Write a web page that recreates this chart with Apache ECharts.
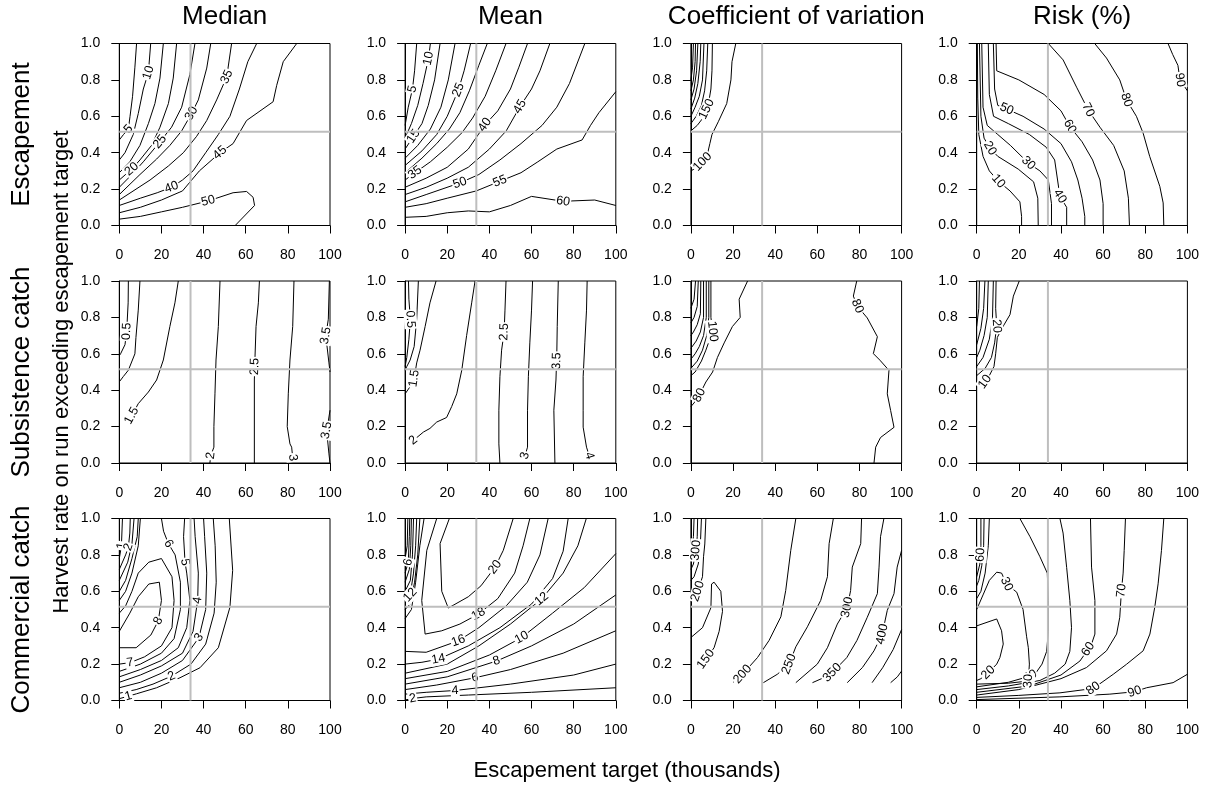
<!DOCTYPE html>
<html><head><meta charset="utf-8">
<script src="https://cdn.jsdelivr.net/npm/echarts@6/dist/echarts.min.js"></script>
<style>html,body{margin:0;padding:0;background:#fff}#c{width:1214px;height:788px}</style>
</head><body><div id="c"></div>
<script>
const colTitles = ['Median', 'Mean', 'Coefficient of variation', 'Risk (%)'];
const rowTitles = ['Escapement', 'Subsistence catch', 'Commercial catch'];
const xTitle = 'Escapement target (thousands)';
const yTitle = 'Harvest rate on run exceeding escapement target';
const xTicks = [0, 20, 40, 60, 80, 100];
const yTicks = [0, 0.2, 0.4, 0.6, 0.8, 1.0];
const refX = 33.8;
const refY = 0.515;

// ---- Row 1: Escapement ----
const escMedianLines = [
  ['5', [[0,0.47],[2,0.5],[4.3,0.53],[5.1,0.6],[6.3,0.71],[7.4,0.87],[8.2,1]]],
  ['10', [[0,0.36],[2.7,0.40],[6.6,0.5],[9,0.615],[11.4,0.75],[13.8,0.84],[14.9,1]]],
  ['15', [[0,0.29],[5,0.35],[9.8,0.44],[13.8,0.56],[16.9,0.67],[19.3,0.81],[20.9,1]]],
  ['20', [[0,0.25],[5.9,0.31],[9.8,0.36],[15.3,0.44],[19.3,0.54],[23.3,0.67],[25.6,0.81],[27.2,1]]],
  ['25', [[0,0.21],[5.1,0.27],[11.4,0.35],[19.3,0.46],[24.8,0.54],[29.6,0.65],[33.5,0.83],[35.9,1]]],
  ['30', [[0,0.17],[9.8,0.28],[17.7,0.365],[24,0.44],[29.6,0.52],[34.3,0.615],[37.5,0.69],[41.5,0.865],[43.4,1]]],
  ['35', [[0,0.14],[14.6,0.25],[23.3,0.327],[30.4,0.40],[36.7,0.49],[41.5,0.577],[46.2,0.69],[51,0.817],[53.3,1]]],
  ['40', [[0,0.11],[10,0.15],[18,0.18],[24.8,0.21],[30,0.25],[35,0.3],[41,0.4],[47,0.5],[52.5,0.6],[57,0.75],[61,0.9],[65.2,1]]],
  ['45', [[0,0.07],[10,0.1],[20,0.14],[30,0.19],[38,0.3],[47.8,0.40],[54,0.45],[60.4,0.577],[73,0.68],[74.7,0.77],[77.8,0.9],[84.2,1]]],
  ['50', [[0,0.035],[10,0.05],[20,0.075],[30,0.1],[42.2,0.135],[54,0.18],[60.4,0.187],[63.5,0.155],[64.2,0.11],[55,0]]]
];
const escMedianLabels = [[4.3,0.53,'5'],[13.8,0.84,'10'],[5.9,0.31,'20'],[19.3,0.46,'25'],[34.3,0.615,'30'],[51,0.817,'35'],[24.8,0.21,'40'],[47.8,0.40,'45'],[42.2,0.135,'50']];

const escMeanLines = [
  ['5', [[0,0.55],[1.5,0.65],[3.5,0.75],[4.5,0.85],[5.5,1]]],
  ['10', [[0,0.48],[3,0.56],[6,0.66],[8.5,0.78],[11.1,0.918],[12,1]]],
  ['15', [[0,0.42],[4,0.49],[8,0.56],[11,0.66],[14,0.8],[16.6,1]]],
  ['20', [[0,0.37],[6,0.44],[12,0.53],[17,0.65],[20.5,0.8],[23.7,1]]],
  ['25', [[0,0.33],[8,0.41],[15,0.5],[20,0.6],[25.3,0.745],[28,0.85],[31.1,1]]],
  ['30', [[0,0.29],[8,0.37],[15,0.45],[21,0.53],[26,0.62],[30.5,0.74],[35,0.88],[39,1]]],
  ['35', [[0,0.25],[4.7,0.29],[12,0.35],[20,0.43],[27,0.51],[32,0.59],[38,0.71],[43,0.85],[47.9,1]]],
  ['40', [[0,0.21],[10,0.26],[20,0.32],[30,0.42],[37.9,0.553],[44,0.63],[50,0.75],[54,0.87],[58.1,1]]],
  ['45', [[0,0.17],[10,0.21],[20,0.26],[30,0.32],[40,0.42],[48,0.52],[54.5,0.653],[60,0.75],[64,0.85],[68.7,1]]],
  ['50', [[0,0.13],[10,0.17],[26,0.234],[35,0.28],[45,0.36],[55,0.45],[65,0.55],[72,0.65],[78,0.78],[85.3,1]]],
  ['55', [[0,0.1],[10,0.12],[20,0.15],[33.8,0.19],[45,0.243],[55,0.29],[63,0.35],[72,0.42],[84,0.47],[88,0.55],[92,0.62],[100,0.735]]],
  ['60', [[0,0.045],[10,0.05],[20,0.07],[30,0.08],[40,0.075],[50,0.11],[60,0.16],[75,0.133],[90,0.14],[100,0.11]]]
];
const escMeanLabels = [[3.5,0.75,'5'],[11.1,0.918,'10'],[4,0.49,'15'],[25.3,0.745,'25'],[4.7,0.29,'35'],[37.9,0.553,'40'],[54.5,0.653,'45'],[26,0.234,'50'],[45,0.243,'55'],[75,0.133,'60']];

const escCvLines = [
  ['100', [[0,0.3],[3,0.32],[5.5,0.35],[8,0.4],[9,0.45],[10,0.5],[13,0.57],[17,0.67],[19,0.8],[19.5,0.9],[21.3,1]]],
  ['150', [[0,0.52],[3,0.55],[5,0.58],[7.5,0.64],[8.5,0.68],[9.5,0.75],[10,0.85],[10.2,1]]],
  ['200', [[0,0.56],[2.5,0.6],[5,0.66],[6.5,0.74],[7.5,0.85],[8,1]]],
  ['250', [[0,0.6],[2,0.65],[4,0.71],[5.5,0.8],[6.2,1]]],
  ['300', [[0,0.64],[1.8,0.7],[3.3,0.78],[4.4,0.9],[4.7,1]]],
  ['350', [[0,0.69],[1.5,0.75],[2.7,0.85],[3.3,1]]],
  ['400', [[0,0.74],[1.2,0.8],[2,0.9],[2.2,1]]],
  ['450', [[0,0.8],[0.8,0.87],[1.2,1]]]
];
const escCvLabels = [[5.5,0.35,'100'],[7.5,0.64,'150']];

const escRiskLines = [
  ['10', [[0.3,1],[0.5,0.7],[1,0.5],[3,0.38],[6,0.3],[10.3,0.243],[15.8,0.19],[20.5,0.13],[21.3,0.05],[21.3,0]]],
  ['20', [[1.3,1],[2,0.6],[3.5,0.48],[6.3,0.425],[10,0.38],[19.7,0.31],[27,0.24],[29,0.15],[29.2,0]]],
  ['30', [[2.4,1],[3,0.65],[5,0.55],[10,0.5],[16,0.44],[24.5,0.343],[30,0.3],[34,0.25],[35.5,0.12],[35.5,0]]],
  ['40', [[5.5,1],[6,0.72],[8,0.6],[15,0.56],[25,0.5],[33,0.43],[37,0.36],[39.5,0.16],[42.7,0.1],[42.7,0]]],
  ['50', [[7.9,1],[8.5,0.75],[10,0.66],[14.2,0.64],[22,0.6],[32,0.53],[40,0.45],[45,0.35],[48,0.25],[50,0.15],[51.3,0.05],[51.3,0]]],
  ['60', [[9.2,1],[9.5,0.85],[20,0.8],[32,0.72],[40,0.63],[44.2,0.544],[50,0.46],[55,0.36],[58.5,0.25],[60,0.12],[60,0]]],
  ['70', [[34,1],[41,0.91],[47.4,0.76],[52.9,0.635],[58.5,0.54],[65,0.44],[70,0.3],[72,0.15],[72.5,0]]],
  ['80', [[56,1],[61.6,0.92],[67.9,0.8],[71.1,0.69],[75.8,0.6],[79,0.507],[82.1,0.38],[86.9,0.215],[88.5,0.124],[88.8,0]]],
  ['90', [[90.8,1],[93,0.94],[95.5,0.88],[96.5,0.8],[100,0.74]]]
];
const escRiskLabels = [[10.3,0.243,'10'],[6.3,0.425,'20'],[24.5,0.343,'30'],[39.5,0.16,'40'],[14.2,0.64,'50'],[44.2,0.544,'60'],[52.9,0.635,'70'],[71.1,0.69,'80'],[96.5,0.8,'90']];

// ---- Row 2: Subsistence catch ----
const subMedianLines = [
  ['0.5', [[4.3,1],[4.2,0.88],[3.5,0.723],[2.7,0.65],[0.6,0.6],[0,0.59]]],
  ['1', [[9.8,1],[9,0.84],[7.9,0.69],[7.4,0.6],[4.3,0.51],[1.9,0.475],[0,0.446]]],
  ['1.5', [[28,1],[26.4,0.88],[24,0.75],[20.9,0.566],[17.7,0.456],[13.8,0.39],[9,0.326],[5.9,0.26],[4.2,0.23]]],
  ['2', [[47.8,1],[47,0.75],[45.9,0.566],[45.4,0.38],[44.9,0.2],[44.9,0.087],[43.4,0.04],[43,0]]],
  ['2.5', [[66.5,1],[66,0.88],[64.9,0.75],[64.4,0.58],[64.1,0.456],[64.1,0]]],
  ['3', [[82.9,1],[82.3,0.75],[81,0.566],[80.2,0.38],[79.7,0.2],[81,0.105],[81.8,0.087],[82.3,0.03]]],
  ['3.5', [[99.7,1],[99.2,0.79],[98,0.7],[99.5,0.55],[100,0.5]]],
  ['3.5', [[100,0.29],[99.2,0.23],[98.4,0.18],[99.5,0.05],[100,0]]]
];
const subMedianLabels = [[3.5,0.723,'0.5'],[5.9,0.26,'1.5'],[43.4,0.04,'2'],[64.3,0.53,'2.5'],[82.3,0.03,'3'],[98,0.7,'3.5'],[98.4,0.18,'3.5']];

const subMeanLines = [
  ['0.5', [[1.6,1],[1.8,0.9],[2.5,0.79],[1.8,0.68],[0.8,0.58],[0,0.53]]],
  ['1', [[6.3,1],[5.5,0.79],[4.3,0.64],[2.4,0.566],[0.8,0.53],[0,0.51]]],
  ['1.5', [[14.7,1],[11.8,0.88],[9.5,0.75],[7.1,0.62],[5.5,0.55],[4.3,0.465],[2.4,0.42],[0,0.38]]],
  ['2', [[33.2,1],[31.6,0.88],[29.2,0.7],[26.9,0.51],[24.5,0.38],[22.1,0.31],[19.7,0.25],[15,0.225],[11.8,0.19],[8.7,0.17],[3.9,0.124]]],
  ['2.5', [[47.9,1],[47.4,0.84],[47,0.72],[45.8,0.62],[45,0.474],[44.5,0.29],[44.5,0.105],[45,0]]],
  ['3', [[60.5,1],[60,0.84],[59.2,0.66],[58.5,0.474],[58.1,0.29],[58.1,0.087],[56.9,0.04]]],
  ['3.5', [[72.7,1],[72.2,0.75],[72,0.6],[71.6,0.456],[70.6,0.29],[71.1,0]]],
  ['4', [[86.4,1],[86.1,0.84],[85.3,0.66],[84.5,0.474],[84.5,0.29],[84.5,0.197],[86.1,0.087],[87.4,0.04]]]
];
const subMeanLabels = [[2.5,0.79,'0.5'],[4.3,0.465,'1.5'],[3.9,0.124,'2'],[47,0.72,'2.5'],[56.9,0.04,'3'],[72,0.56,'3.5'],[87.4,0.04,'4']];

const subCvLines = [
  ['80', [[26.9,1],[22.9,0.9],[23.4,0.8],[19.7,0.75],[15.8,0.66],[12.6,0.58],[10.3,0.5],[7.1,0.445],[4,0.373],[1.5,0.33],[0,0.31]]],
  ['80', [[78.7,1],[77.1,0.917],[79,0.862],[83.7,0.797],[88.5,0.694],[86.6,0.601],[89.7,0.565],[94,0.509],[93.2,0.38],[94.8,0.288],[96.4,0.196],[90,0.14],[87.7,0.087],[86.9,0]]],
  ['100', [[9.5,1],[9.5,0.8],[10.3,0.723],[7.1,0.62],[5,0.56],[2,0.5],[0,0.48]]],
  ['120', [[8.5,1],[8.5,0.8],[7.5,0.7],[5.5,0.62],[3,0.56],[0,0.52]]],
  ['140', [[7.3,1],[7.3,0.8],[6,0.7],[4,0.64],[2,0.6],[0,0.57]]],
  ['160', [[6,1],[6,0.8],[4.5,0.72],[2.5,0.67],[0,0.63]]],
  ['180', [[4.7,1],[4.5,0.82],[3,0.76],[1.2,0.72],[0,0.7]]],
  ['200', [[3.5,1],[3,0.86],[1.5,0.8],[0,0.77]]],
  ['220', [[2.2,1],[1.5,0.9],[0,0.85]]]
];
const subCvLabels = [[10.3,0.723,'100'],[4,0.373,'80'],[79,0.862,'80']];

const subRiskLines = [
  ['10', [[20.2,1],[17.4,0.917],[15.8,0.815],[12,0.74],[9.8,0.69],[9,0.6],[8.2,0.53],[6,0.48],[3.9,0.446],[0,0.43]]],
  ['20', [[9.2,1],[9,0.85],[9.5,0.752],[8.5,0.66],[7,0.58],[4,0.52],[0,0.48]]],
  ['30', [[7.9,1],[7.5,0.8],[6,0.68],[3,0.58],[0,0.53]]],
  ['40', [[5.5,1],[5,0.8],[3.5,0.7],[1.5,0.62],[0,0.58]]],
  ['50', [[3.9,1],[3.3,0.85],[2,0.74],[0,0.65]]],
  ['60', [[1.3,1],[1,0.85],[0,0.75]]]
];
const subRiskLabels = [[9.5,0.752,'20'],[3.9,0.446,'10']];

// ---- Row 3: Commercial catch ----
const comMedianLines = [
  ['1', [[0,0.01],[4.3,0.024],[8.2,0.037],[17.7,0.07],[28.8,0.125],[38.3,0.18],[47,0.29],[52.5,0.512],[53.8,0.715],[52.2,1]]],
  ['1', [[0,0.78],[1,0.85],[1.5,1]]],
  ['2', [[0,0.04],[8,0.06],[16,0.09],[24.8,0.134],[34,0.2],[41,0.31],[45,0.48],[46,0.65],[45.5,0.85],[44.6,1]]],
  ['2', [[0,0.72],[3,0.8],[4.3,0.843],[5,0.92],[5.2,1]]],
  ['3', [[0,0.07],[10,0.1],[20,0.15],[30,0.22],[37.8,0.346],[41,0.5],[41.5,0.7],[40.5,0.9],[40,1]]],
  ['3', [[0,0.66],[4,0.76],[6,0.86],[7,1]]],
  ['4', [[0,0.1],[10,0.14],[20,0.19],[30,0.26],[35,0.38],[37.2,0.55],[37.5,0.7],[36,0.9],[35.5,1]]],
  ['4', [[0,0.6],[3,0.66],[6,0.78],[8.5,0.9],[9,1]]],
  ['5', [[0,0.13],[10,0.17],[20,0.22],[28,0.29],[32,0.4],[33.5,0.55],[32,0.7],[31.2,0.76],[30.5,0.9],[31,1]]],
  ['5', [[0,0.55],[3,0.6],[6,0.7],[9,0.85],[10,1]]],
  ['6', [[0,0.16],[10,0.2],[20,0.26],[26,0.34],[29,0.5],[29,0.65],[26.5,0.8],[23.3,0.862],[21,0.93],[20,1]]],
  ['7', [[0,0.2],[5.1,0.208],[12,0.24],[20,0.3],[25,0.4],[26,0.55],[25,0.68],[20,0.78],[14,0.76],[9,0.7],[6,0.6],[3,0.52],[0,0.48]]],
  ['8', [[0,0.29],[8,0.29],[15,0.36],[18.5,0.438],[20,0.55],[19,0.65],[14,0.64],[9,0.57],[5,0.48],[0,0.38]]]
];
const comMedianLabels = [[4.3,0.024,'1'],[1,0.85,'1'],[24.8,0.134,'2'],[4.3,0.843,'2'],[37.8,0.346,'3'],[37.2,0.55,'4'],[31.2,0.76,'5'],[23.3,0.862,'6'],[5.1,0.208,'7'],[18.5,0.438,'8']];

const comMeanLines = [
  ['20', [[21,1],[16.6,0.862],[17.4,0.6],[20.5,0.508],[30,0.57],[36,0.63],[42.7,0.733],[46.6,0.825],[51.3,1]]],
  ['18', [[15,1],[10.3,0.825],[7.9,0.55],[9.5,0.365],[17.4,0.383],[26,0.42],[34.8,0.475],[44,0.56],[52,0.7],[56,0.85],[59.2,1]]],
  ['16', [[0,0.27],[10,0.265],[25.3,0.328],[35,0.4],[48,0.52],[58,0.65],[64,0.8],[67.9,1]]],
  ['16', [[0,0.45],[3,0.5],[5,0.65],[7,0.85],[9,1]]],
  ['14', [[0,0.2],[8,0.21],[15.8,0.227],[30,0.3],[45,0.4],[60,0.53],[70,0.67],[75,0.82],[77.4,1]]],
  ['14', [[0,0.5],[2.4,0.53],[4.5,0.65],[6,0.8],[7,1]]],
  ['12', [[0,0.15],[20,0.2],[35,0.3],[50,0.42],[64.8,0.558],[75,0.7],[82,0.85],[86,1]]],
  ['12', [[0,0.55],[2.4,0.58],[4,0.7],[5,0.85],[5.5,1]]],
  ['10', [[0,0.12],[20,0.16],[40,0.25],[55.3,0.346],[70,0.48],[85,0.62],[100,0.807]]],
  ['10', [[0,0.6],[2.5,0.66],[3.5,0.8],[4,1]]],
  ['8', [[0,0.09],[20,0.13],[43.4,0.217],[60,0.3],[80,0.42],[100,0.58]]],
  ['8', [[0,0.65],[2,0.72],[2.7,0.85],[3,1]]],
  ['6', [[0,0.06],[15,0.085],[33.2,0.125],[50,0.17],[75,0.26],[100,0.383]]],
  ['6', [[0,0.7],[1.5,0.76],[2,0.9],[2.2,1]]],
  ['4', [[0,0.035],[10,0.045],[23.7,0.055],[50,0.09],[80,0.14],[100,0.2]]],
  ['4', [[0,0.78],[1,0.85],[1.3,1]]],
  ['2', [[0,0.003],[3.6,0.011],[10,0.02],[30,0.03],[60,0.045],[100,0.07]]]
];
const comMeanLabels = [[3.6,0.011,'2'],[23.7,0.055,'4'],[33.2,0.125,'6'],[43.4,0.217,'8'],[55.3,0.346,'10'],[64.8,0.558,'12'],[15.8,0.227,'14'],[25.3,0.328,'16'],[34.8,0.475,'18'],[42.7,0.733,'20'],[1.5,0.76,'6'],[2.4,0.58,'12']];

const comCvLines = [
  ['150', [[0,0.346],[5.5,0.4],[9.5,0.51],[9.8,0.64],[11,0.65],[14.2,0.6],[15,0.49],[13.4,0.38],[11,0.29],[7.1,0.227],[5,0.19]]],
  ['200', [[7.1,1],[6.6,0.86],[6,0.79],[5.5,0.68],[3.2,0.6],[0,0.58]]],
  ['250', [[5,1],[4.5,0.86],[3.5,0.75],[1.5,0.68],[0,0.66]]],
  ['300', [[3.2,1],[3,0.9],[2.4,0.825],[1.2,0.75],[0,0.72]]],
  ['350', [[1.5,1],[1.2,0.9],[0,0.8]]],
  ['200', [[49.8,1],[47.4,0.825],[45,0.604],[42.7,0.46],[37.1,0.33],[31.6,0.236],[24.5,0.144],[20,0.1]]],
  ['250', [[67.6,1],[65.6,0.862],[64.8,0.68],[61.6,0.55],[55.3,0.405],[49.8,0.295],[46.6,0.2],[41,0.144],[34.4,0.098]]],
  ['300', [[81,1],[80.6,0.862],[76.6,0.733],[75.8,0.604],[74.2,0.512],[69.5,0.42],[64.8,0.29],[60,0.2],[49.8,0.098]]],
  ['350', [[91.6,1],[90,0.9],[89.3,0.733],[88.5,0.587],[83.7,0.457],[78.8,0.33],[74,0.236],[67.1,0.153],[62,0.12],[57.7,0.098]]],
  ['400', [[100,0.825],[97.9,0.733],[96.4,0.587],[93.2,0.495],[90.8,0.365],[86.9,0.273],[81.4,0.181],[74.2,0.098]]],
  ['450', [[100,0.39],[96,0.28],[91,0.18],[86,0.098]]],
  ['500', [[100,0.162],[98,0.13],[94.8,0.098]]]
];
const comCvLabels = [[2.4,0.825,'300'],[3.2,0.6,'200'],[7.1,0.227,'150'],[24.5,0.144,'200'],[46.6,0.2,'250'],[74.2,0.512,'300'],[67.1,0.153,'350'],[90.8,0.365,'400']];

const comRiskLines = [
  ['20', [[0,0.41],[9.5,0.448],[11.8,0.383],[12.6,0.31],[11,0.236],[9.5,0.2],[5.5,0.153],[2,0.12],[0,0.11]]],
  ['30', [[0,0.5],[3,0.58],[6,0.66],[9.5,0.705],[11.8,0.7],[14.2,0.64],[19,0.595],[22,0.5],[23.7,0.35],[24.5,0.29],[25,0.2],[24.5,0.107],[15,0.095],[0,0.09]]],
  ['40', [[20.5,1],[25.3,0.9],[30,0.79],[33.5,0.7],[34,0.55],[34,0.38],[33.2,0.27],[31,0.2],[28,0.15],[25.3,0.134],[15,0.1],[0,0.075]]],
  ['40', [[6,1],[5.5,0.85],[4,0.7],[2,0.6],[0,0.56]]],
  ['50', [[39.5,1],[41,0.92],[42.7,0.73],[44.2,0.55],[45,0.4],[44.2,0.27],[42,0.2],[37,0.15],[30,0.11],[15,0.08],[0,0.06]]],
  ['50', [[3.5,1],[3.3,0.85],[2.4,0.74],[1,0.66],[0,0.63]]],
  ['60', [[54,1],[54.5,0.733],[56.1,0.55],[56.1,0.365],[54.5,0.31],[52.9,0.282],[49,0.217],[40,0.14],[25,0.08],[0,0.045]]],
  ['60', [[2,1],[2,0.85],[1.5,0.75],[0,0.68]]],
  ['70', [[70.6,1],[70,0.825],[69.5,0.7],[68.7,0.604],[67.9,0.457],[66.4,0.365],[61.6,0.273],[52.1,0.181],[40,0.12],[20,0.06],[0,0.03]]],
  ['80', [[88.8,1],[87.7,0.825],[86.1,0.641],[84.5,0.512],[82.2,0.365],[79,0.273],[71.1,0.199],[64.8,0.144],[55.3,0.066],[39.5,0.042],[20,0.028],[0,0.017]]],
  ['90', [[100,0.144],[93.2,0.098],[80.6,0.07],[75,0.048],[63.2,0.035],[39.5,0.02],[0,0.005]]]
];
const comRiskLabels = [[1.8,0.8,'60'],[14.2,0.64,'30'],[68.7,0.604,'70'],[52.9,0.282,'60'],[5.5,0.153,'20'],[25.3,0.134,'40'],[24.5,0.107,'30'],[55.3,0.066,'80'],[75,0.048,'90']];

const panelLines = [escMedianLines, escMeanLines, escCvLines, escRiskLines,
                    subMedianLines, subMeanLines, subCvLines, subRiskLines,
                    comMedianLines, comMeanLines, comCvLines, comRiskLines];
const panelLabels = [escMedianLabels, escMeanLabels, escCvLabels, escRiskLabels,
                     subMedianLabels, subMeanLabels, subCvLabels, subRiskLabels,
                     comMedianLabels, comMeanLabels, comCvLabels, comRiskLabels];

// ---- layout ----
const FONT = '"Liberation Sans", Arial, Helvetica, sans-serif';
const L0 = 119.3, DX = 285.8, W = 210.7;
const T0 = 43.5, DY = 237.5, H = 182;

function labelAngle(lines, lvl, x, y) {
  let best = Infinity, ang = 0;
  const px = x / 100 * W, py = y * H;
  for (const [lv, pts] of lines) {
    if (lv !== lvl) continue;
    for (let i = 0; i < pts.length - 1; i++) {
      const ax = pts[i][0] / 100 * W, ay = pts[i][1] * H;
      const bx = pts[i + 1][0] / 100 * W, by = pts[i + 1][1] * H;
      const dx = bx - ax, dy = by - ay;
      const len = dx * dx + dy * dy || 1;
      let t = ((px - ax) * dx + (py - ay) * dy) / len;
      t = Math.max(0, Math.min(1, t));
      const d = Math.hypot(ax + t * dx - px, ay + t * dy - py);
      if (d < best) { best = d; ang = Math.atan2(dy, dx) * 180 / Math.PI; }
    }
  }
  if (ang > 90) ang -= 180;
  if (ang < -90) ang += 180;
  return ang;
}

const grids = [], xAxes = [], yAxes = [], series = [], graphics = [];
for (let r = 0; r < 3; r++) {
  for (let c = 0; c < 4; c++) {
    const k = r * 4 + c;
    grids.push({ left: L0 + c * DX, top: T0 + r * DY, width: W, height: H,
      show: true, borderColor: '#000', borderWidth: 1, backgroundColor: 'transparent' });
    xAxes.push({ type: 'value', gridIndex: k, min: xTicks[0], max: xTicks[xTicks.length - 1], interval: 20,
      axisLine: { show: true, lineStyle: { color: '#000', width: 1 } },
      axisTick: { show: true, inside: false, length: 8, lineStyle: { color: '#000' } },
      axisLabel: { show: true, margin: 23, fontSize: 14, color: '#000', fontFamily: FONT },
      splitLine: { show: false } });
    yAxes.push({ type: 'value', gridIndex: k, min: yTicks[0], max: yTicks[yTicks.length - 1], interval: 0.2,
      axisLine: { show: true, lineStyle: { color: '#000', width: 1 } },
      axisTick: { show: true, inside: false, length: 8, lineStyle: { color: '#000' } },
      axisLabel: { show: true, margin: 19, fontSize: 14, color: '#000', fontFamily: FONT,
        formatter: v => Number(v).toFixed(1) },
      splitLine: { show: false } });
    const lines = panelLines[k];
    lines.forEach(([lv, pts]) => {
      series.push({ type: 'line', xAxisIndex: k, yAxisIndex: k, data: pts, showSymbol: false, symbol: 'none',
        lineStyle: { color: '#000', width: 1 }, silent: true, z: 2, animation: false, clip: true });
    });
    series.push({ type: 'scatter', xAxisIndex: k, yAxisIndex: k, symbolSize: 0, silent: true, z: 3, animation: false,
      itemStyle: { opacity: 1, color: '#000' },
      data: panelLabels[k].map(([x, y, t]) => ({ value: [x, y], name: t,
        label: { rotate: labelAngle(lines, t, x, y) } })),
      label: { show: true, position: 'inside', formatter: p => p.name, fontSize: 12.5, color: '#000', opacity: 1,
        fontFamily: FONT, backgroundColor: '#fff', padding: [0, 1] } });
    series.push({ type: 'line', xAxisIndex: k, yAxisIndex: k, data: [[refX, 0], [refX, 1]], showSymbol: false, symbol: 'none',
      lineStyle: { color: '#bebebe', width: 2 }, silent: true, z: 4, animation: false });
    series.push({ type: 'line', xAxisIndex: k, yAxisIndex: k, data: [[0, refY], [100, refY]], showSymbol: false, symbol: 'none',
      lineStyle: { color: '#bebebe', width: 2 }, silent: true, z: 4, animation: false });
  }
}
colTitles.forEach((t, c) => graphics.push({ type: 'text', x: L0 + c * DX + W / 2, y: 17,
  style: { text: t, fill: '#000', font: '26px ' + FONT, textAlign: 'center', textVerticalAlign: 'middle' } }));
rowTitles.forEach((t, r) => graphics.push({ type: 'text', x: 22, y: T0 + r * DY + H / 2, rotation: Math.PI / 2,
  style: { text: t, fill: '#000', font: '26px ' + FONT, textAlign: 'center', textVerticalAlign: 'middle' } }));
graphics.push({ type: 'text', x: 62, y: T0 + DY + H / 2, rotation: Math.PI / 2,
  style: { text: yTitle, fill: '#000', font: '22px ' + FONT, textAlign: 'center', textVerticalAlign: 'middle' } });
graphics.push({ type: 'text', x: 627, y: 771,
  style: { text: xTitle, fill: '#000', font: '22px ' + FONT, textAlign: 'center', textVerticalAlign: 'middle' } });

const chart = echarts.init(document.getElementById('c'), null, { renderer: 'canvas' });
chart.setOption({ animation: false, backgroundColor: '#fff', textStyle: { fontFamily: FONT },
  grid: grids, xAxis: xAxes, yAxis: yAxes, series: series, graphic: graphics });
</script></body></html>
